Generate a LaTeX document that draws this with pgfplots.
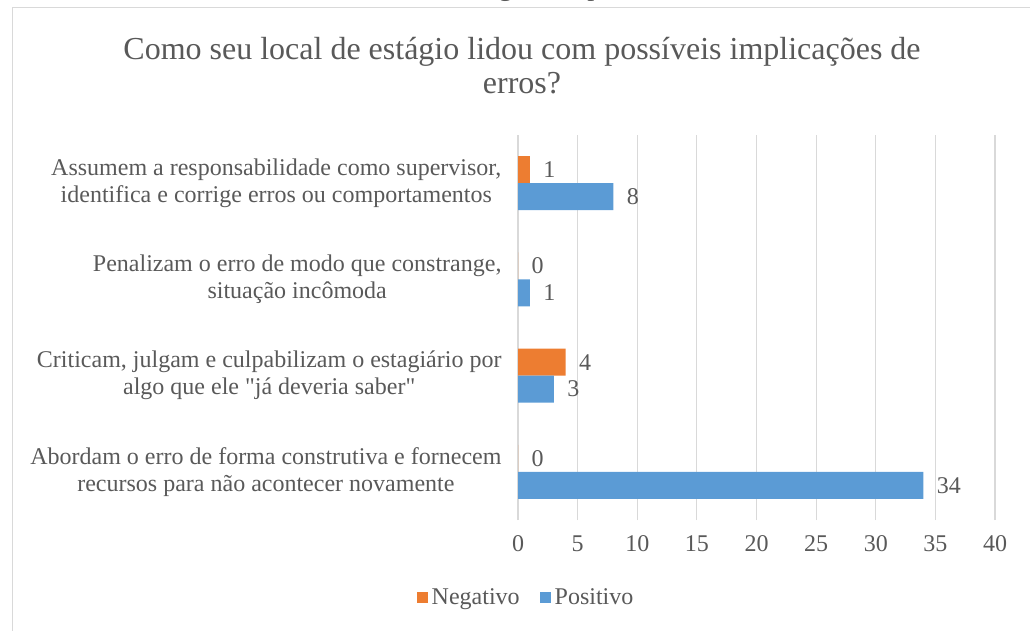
\documentclass[border=0pt]{standalone}
\usepackage{pgfplots}
\pgfplotsset{compat=1.18}
\usepackage{fontspec}
\setmainfont{Liberation Serif}[Ligatures=TeXOff]
\definecolor{negc}{HTML}{ED7D31}
\definecolor{posc}{HTML}{5B9BD5}
\definecolor{txt}{HTML}{595959}
\definecolor{grd}{HTML}{D9D9D9}
\begin{document}
\begin{tikzpicture}[x=1pt,y=1pt]
\useasboundingbox (0,0) rectangle (1030,630);
\node[anchor=base, font=\fontsize{28}{32}\selectfont, text=txt] at (522,634) {Gráfico 8: Abordagem de possíveis erros};
\draw[grd, line width=1pt] (12,-5) -- (12,622) -- (1040,622);
\node[font=\fontsize{32}{34}\selectfont, text=txt, align=center] at (522,564) {Como seu local de estágio lidou com possíveis implicações de\\erros?};
\begin{axis}[
  at={(518pt,110pt)}, anchor=south west,
  scale only axis, width=477pt, height=385pt,
  xbar, bar width=0.28,
  xmin=0, xmax=40, ymin=-0.5, ymax=3.5,
  xtick={0,5,...,40},
  ytick={0,1,2,3},
  yticklabels={{Abordam o erro de forma construtiva e fornecem\\recursos para não acontecer novamente},
               {Criticam, julgam e culpabilizam o estagiário por\\algo que ele "já deveria saber"},
               {Penalizam o erro de modo que constrange,\\situação incômoda},
               {Assumem a responsabilidade como supervisor,\\identifica e corrige erros ou comportamentos}},
  yticklabel style={align=center, font=\fontsize{24}{27}\selectfont, text=txt, xshift=-13pt},
  xticklabel style={font=\fontsize{24}{27}\selectfont, text=txt, yshift=-12pt},
  /pgf/number format/assume math mode=true,
  axis line style={draw=none},
  major tick length=0pt,
  xmajorgrids, grid style={grd, line width=1.2pt},
  nodes near coords,
  nodes near coords style={font=\fontsize{24}{27}\selectfont, text=txt, anchor=west, xshift=10pt},
  legend columns=2,
  legend style={at={(0.019,-0.2)}, anchor=center, draw=none, font=\fontsize{24}{27}\selectfont, text=txt,
    nodes={inner xsep=4pt},
    /tikz/every even column/.append style={column sep=16pt}},
  legend image code/.code={\fill[#1] (0pt,-5.5pt) rectangle (11pt,5.5pt);},
]
\addplot[fill=negc, draw=none, bar shift=0.14] coordinates {(0,0) (4,1) (0,2) (1,3)};
\addlegendentry{Negativo}
\addplot[fill=posc, draw=none, bar shift=-0.14] coordinates {(34,0) (3,1) (1,2) (8,3)};
\addlegendentry{Positivo}
\end{axis}
\end{tikzpicture}
\end{document}
